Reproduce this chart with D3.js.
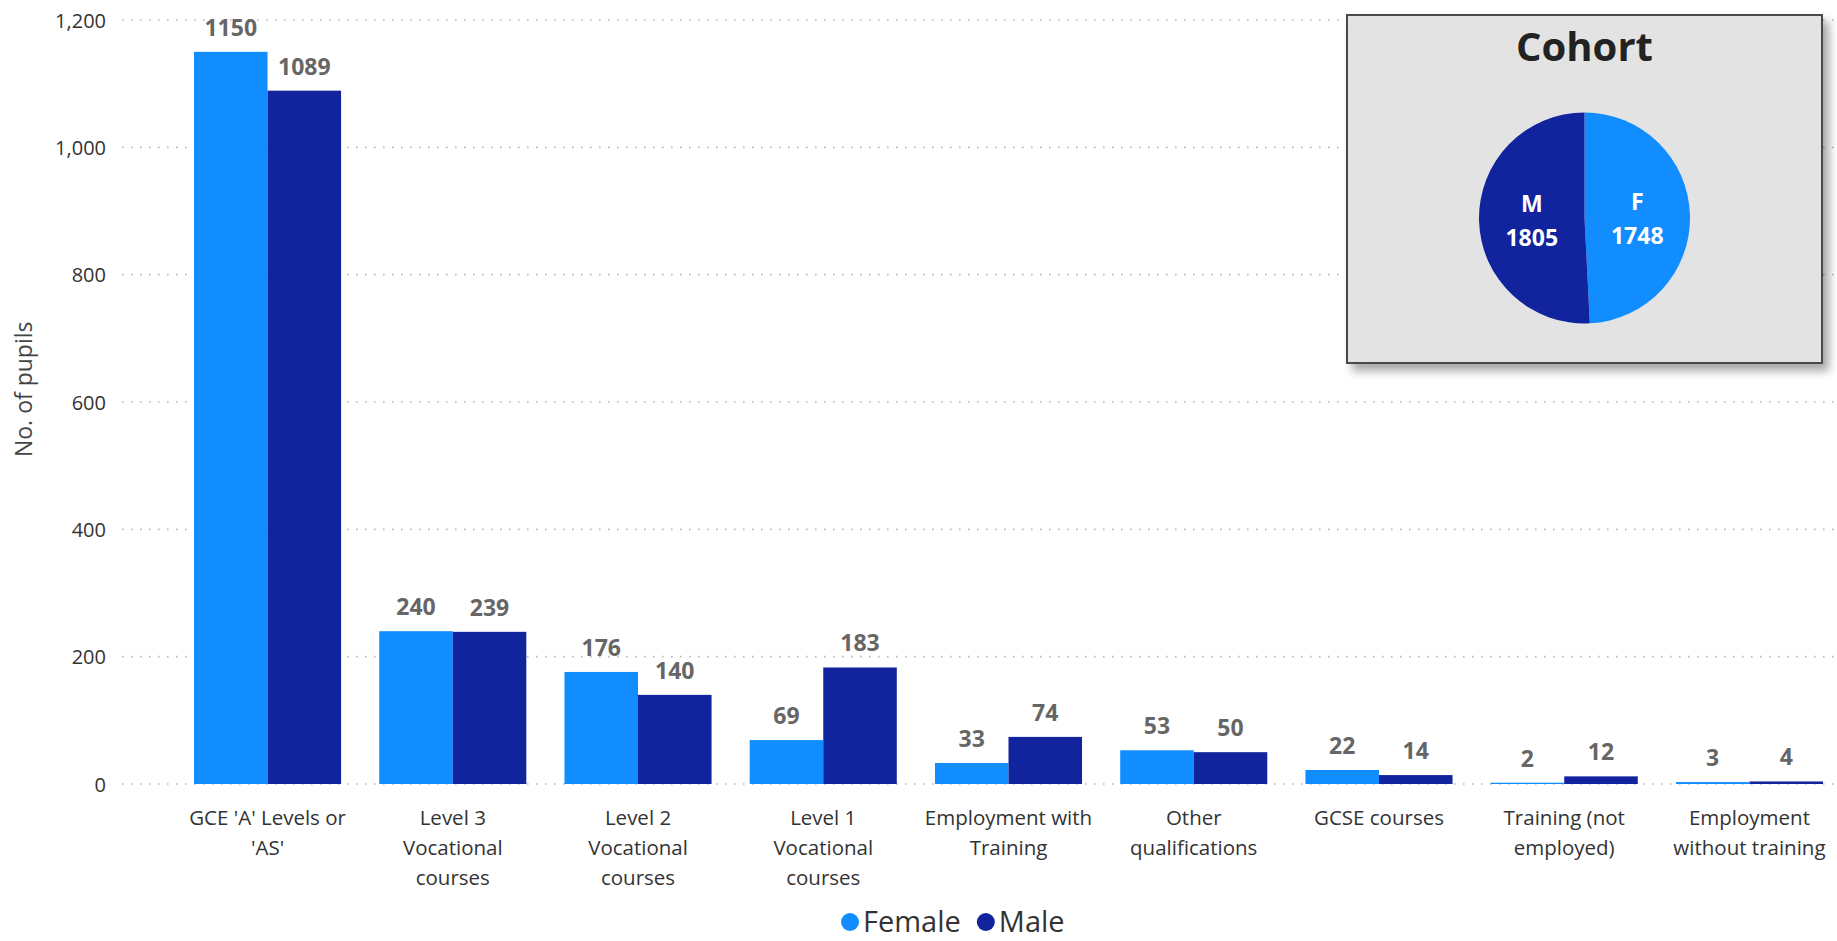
<!DOCTYPE html>
<html lang="en">

<head>
    <meta charset="UTF-8">
    <title>Destinations by gender</title>
    <script src="https://cdn.jsdelivr.net/npm/d3@7"></script>
    <style>
        body { margin: 0; background: #fff; }
        svg { display: block; font-family: "Open Sans", sans-serif; }
    </style>
</head>

<body>
    <svg id="chart" width="1837" height="941"></svg>

    <script>
        // data
        const categories = [
            ["GCE 'A' Levels or", "'AS'"],
            ["Level 3", "Vocational", "courses"],
            ["Level 2", "Vocational", "courses"],
            ["Level 1", "Vocational", "courses"],
            ["Employment with", "Training"],
            ["Other", "qualifications"],
            ["GCSE courses"],
            ["Training (not", "employed)"],
            ["Employment", "without training"]
        ]
        const female = [1150, 240, 176, 69, 33, 53, 22, 2, 3]
        const male = [1089, 239, 140, 183, 74, 50, 14, 12, 4]
        const yTicks = [0, 200, 400, 600, 800, 1000, 1200]
        const seriesNames = ["Female", "Male"]
        const cohortLabels = ["F", "M"]
        const cohortValues = [1748, 1805]

        const colors = ["#118DFF", "#12239E"]

        const svg = d3.select('#chart')
        const W = 1837, H = 941

        const x = d3.scaleBand()
            .domain(d3.range(categories.length))
            .range([194, 1823])
            .paddingInner(0.206)
            .paddingOuter(0)

        const xs = d3.scaleBand()
            .domain([0, 1])
            .range([0, x.bandwidth()])

        const y = d3.scaleLinear()
            .domain([0, 1200])
            .range([784, 20])

        // gridlines + y labels
        const yAxis = d3.axisLeft(y)
            .tickValues(yTicks)
            .tickFormat(d3.format(','))
            .tickSize(0)
            .tickPadding(0)

        const yg = svg.append('g')
            .attr('transform', 'translate(106,0)')
            .call(yAxis)
        yg.select('.domain').remove()
        yg.selectAll('text')
            .attr('font-family', '"Open Sans", sans-serif')
            .attr('font-size', 20)
            .attr('fill', '#333')
            .attr('dy', '0.35em')

        svg.append('g')
            .selectAll('line')
            .data(yTicks)
            .join('line')
            .attr('x1', 122)
            .attr('x2', W)
            .attr('y1', d => y(d))
            .attr('y2', d => y(d))
            .attr('stroke', '#b8b8b8')
            .attr('stroke-width', 1.6)
            .attr('stroke-dasharray', '1.6,7.4')

        svg.append('text')
            .attr('transform', `translate(32,${y(620)}) rotate(-90)`)
            .attr('text-anchor', 'middle')
            .attr('font-size', 23)
            .attr('fill', '#444')
            .text('No. of pupils')

        // bars
        const rows = categories.map((c, i) => ({ i, vals: [female[i], male[i]] }))

        const groups = svg.append('g')
            .selectAll('g')
            .data(rows)
            .join('g')
            .attr('transform', d => `translate(${x(d.i)},0)`)

        groups.selectAll('rect')
            .data(d => d.vals)
            .join('rect')
            .attr('x', (d, k) => xs(k))
            .attr('width', xs.bandwidth())
            .attr('y', d => y(d))
            .attr('height', d => y(0) - y(d))
            .attr('fill', (d, k) => colors[k])

        groups.selectAll('text.val')
            .data(d => d.vals)
            .join('text')
            .attr('class', 'val')
            .attr('x', (d, k) => xs(k) + xs.bandwidth() / 2)
            .attr('y', d => y(d) - 16)
            .attr('text-anchor', 'middle')
            .attr('font-size', 23)
            .attr('font-weight', 'bold')
            .attr('fill', '#666')
            .text(d => d)

        // category labels
        const xl = svg.append('g')
            .selectAll('text')
            .data(rows)
            .join('text')
            .attr('x', d => x(d.i) + x.bandwidth() / 2)
            .attr('y', 825)
            .attr('text-anchor', 'middle')
            .attr('font-size', 20.5)
            .attr('fill', '#333')

        xl.selectAll('tspan')
            .data(d => categories[d.i])
            .join('tspan')
            .attr('x', function () { return this.parentNode.getAttribute('x') })
            .attr('dy', (d, k) => k === 0 ? 0 : 30)
            .text(d => d)

        // legend
        const legend = svg.append('g').attr('transform', 'translate(0,932)')
        let lx = 841
        seriesNames.forEach((name, k) => {
            legend.append('circle')
                .attr('cx', lx + 9)
                .attr('cy', -10)
                .attr('r', 9)
                .attr('fill', colors[k])
            const t = legend.append('text')
                .attr('x', lx + 22)
                .attr('y', 0)
                .attr('font-size', 29)
                .attr('fill', '#333')
                .text(name)
            lx += 22 + t.node().getComputedTextLength() + 16
        })

        // cohort inset
        const defs = svg.append('defs')
        const f = defs.append('filter').attr('id', 'shadow')
            .attr('x', '-10%').attr('y', '-10%').attr('width', '130%').attr('height', '130%')
        f.append('feDropShadow')
            .attr('dx', 6).attr('dy', 7)
            .attr('stdDeviation', 5)
            .attr('flood-color', '#000')
            .attr('flood-opacity', 0.35)

        const box = { x: 1347, y: 15, w: 475, h: 348 }
        const inset = svg.append('g')
        inset.append('rect')
            .attr('x', box.x).attr('y', box.y)
            .attr('width', box.w).attr('height', box.h)
            .attr('fill', '#e3e3e3')
            .attr('stroke', '#4a4a4a')
            .attr('stroke-width', 2)
            .attr('filter', 'url(#shadow)')

        inset.append('text')
            .attr('x', box.x + box.w / 2)
            .attr('y', 61)
            .attr('text-anchor', 'middle')
            .attr('font-size', 40)
            .attr('font-weight', 'bold')
            .attr('fill', '#222')
            .text('Cohort')

        const r = 105.5
        const pie = d3.pie().sort(null)
        const arc = d3.arc().innerRadius(0).outerRadius(r)
        const pieData = pie(cohortValues)

        const pg = inset.append('g')
            .attr('transform', `translate(${box.x + box.w / 2},218)`)

        pg.selectAll('path')
            .data(pieData)
            .join('path')
            .attr('d', arc)
            .attr('fill', (d, k) => colors[k])

        const pl = pg.selectAll('text')
            .data(pieData)
            .join('text')
            .attr('transform', d => `translate(${arc.centroid(d)})`)
            .attr('text-anchor', 'middle')
            .attr('font-size', 23)
            .attr('font-weight', 'bold')
            .attr('fill', '#fff')

        pl.append('tspan').attr('x', 0).attr('dy', '-0.3em').text((d, k) => cohortLabels[k])
        pl.append('tspan').attr('x', 0).attr('dy', '1.48em').text(d => d.value)
    </script>
</body>

</html>
